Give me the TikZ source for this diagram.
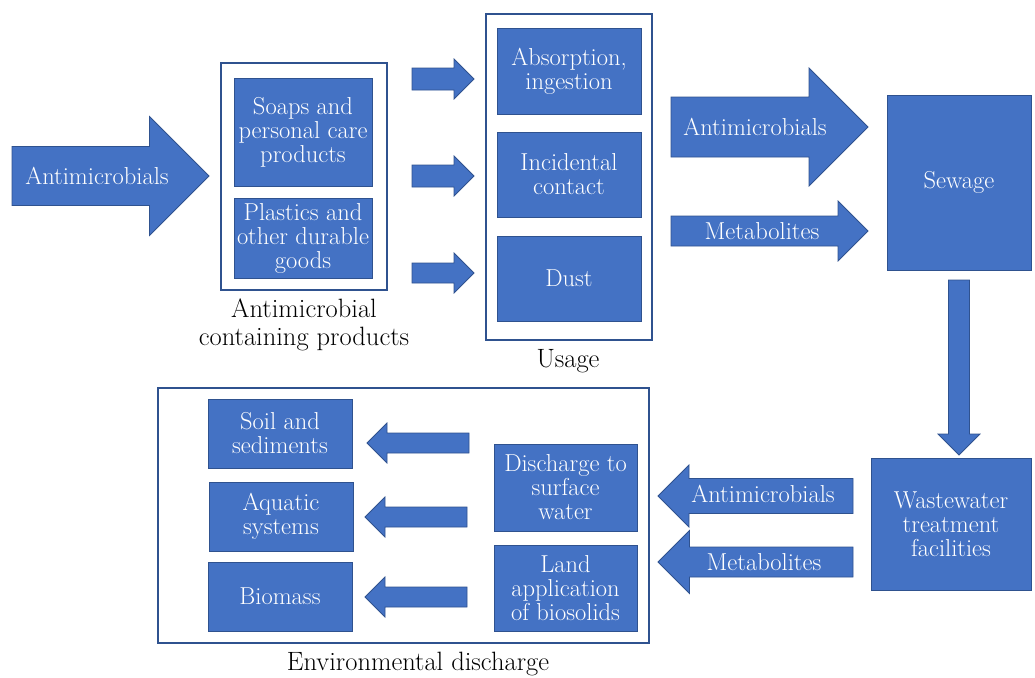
\documentclass[tikz,border=0pt]{standalone}
\usepackage{amsmath,amssymb}
\usepackage{tikz}
\usetikzlibrary{calc, positioning, shapes, arrows}
\definecolor{blu}{HTML}{4472C4}
\definecolor{bdr}{HTML}{2F528F}
\tikzstyle{blk}=[rectangle, draw=bdr, line width=0.8pt, fill=blu, text=white, align=center, inner sep=0pt, font=\fontsize{24.5}{24}\selectfont]
\tikzstyle{frm}=[rectangle, draw=bdr, line width=2pt, inner sep=0pt]
\tikzstyle{arw}=[draw=bdr, line width=0.8pt, fill=blu]
\tikzstyle{atxt}=[text=white, font=\fontsize{24.5}{24}\selectfont]
\tikzstyle{lbl}=[align=center, font=\fontsize{26.5}{28}\selectfont]
% block arrow: tail x, tip x, centre y, half shaft, half head
\newcommand{\harrow}[5]{%
	\draw[arw] (#1,{#3-#4}) -- ({#2-#5*sign(#2-#1)},{#3-#4}) -- ({#2-#5*sign(#2-#1)},{#3-#5}) -- (#2,#3)
		-- ({#2-#5*sign(#2-#1)},{#3+#5}) -- ({#2-#5*sign(#2-#1)},{#3+#4}) -- (#1,{#3+#4}) -- cycle;}

\begin{document}
\begin{tikzpicture}[x=1pt, y=-1pt]
	\useasboundingbox (0,0) rectangle (1035,677);
	% products
	\harrow{12}{209}{176}{29.5}{59.5}
	\node[atxt] (am0) at (97,176) {Antimicrobials};
	\node[frm, minimum width=166, minimum height=227] (prod) at (304,176.5) {};
	\node[blk, minimum width=138, minimum height=108] (soap) at (303,132) {Soaps and\\personal care\\products};
	\node[blk, minimum width=138, minimum height=80] (plas) at (303,238) {Plastics and\\other durable\\goods};
	\node[lbl] (prodlbl) at (304,325) {Antimicrobial\\containing products};
	% usage
	\harrow{412}{474}{79}{11}{20}
	\harrow{412}{474}{176}{11}{20}
	\harrow{412}{474}{273}{10}{20}
	\node[frm, minimum width=166, minimum height=326] (use) at (569,177) {};
	\node[blk, minimum width=144, minimum height=86] (abs) at (569,71) {Absorption,\\ingestion};
	\node[blk, minimum width=144, minimum height=85] (inc) at (569,174.5) {Incidental\\contact};
	\node[blk, minimum width=144, minimum height=85] (dust) at (569,278.5) {Dust};
	\node[lbl] (uselbl) at (568,361) {Usage};
	% sewage
	\harrow{671}{868}{127}{30}{59}
	\node[atxt] (am1) at (755,127) {Antimicrobials};
	\harrow{671}{868}{231}{15}{30}
	\node[atxt] (met1) at (762,231) {Metabolites};
	\node[blk, minimum width=144, minimum height=175] (sew) at (959,182.5) {Sewage};
	\draw[arw] (948.5,280) -- (948.5,434) -- (938,434) -- (959,455) -- (980,434) -- (969.5,434) -- (969.5,280) -- cycle;
	\node[blk, minimum width=160, minimum height=132] (wwt) at (951,524) {Wastewater\\treatment\\facilities};
	% discharge
	\harrow{853}{658}{496}{17.5}{31}
	\node[atxt] (am2) at (763,494) {Antimicrobials};
	\harrow{853}{658}{562}{15}{31.5}
	\node[atxt] (met2) at (764,562) {Metabolites};
	\node[frm, minimum width=491, minimum height=255] (env) at (403.5,515.5) {};
	\node[blk, minimum width=143, minimum height=87] (surf) at (565.5,487.5) {Discharge to\\surface\\water};
	\node[blk, minimum width=143, minimum height=86] (land) at (565.5,588) {Land\\application\\of biosolids};
	\harrow{469}{367}{443}{10}{20}
	\harrow{467}{365}{517}{10}{20}
	\harrow{467}{365}{597}{10}{20}
	\node[blk, minimum width=144, minimum height=69] (soil) at (280,433.5) {Soil and\\sediments};
	\node[blk, minimum width=144, minimum height=69] (aqua) at (281,516.5) {Aquatic\\systems};
	\node[blk, minimum width=144, minimum height=69] (bio) at (280,596.5) {Biomass};
	\node[lbl] (envlbl) at (418,664) {Environmental discharge};
\end{tikzpicture}
\end{document}
